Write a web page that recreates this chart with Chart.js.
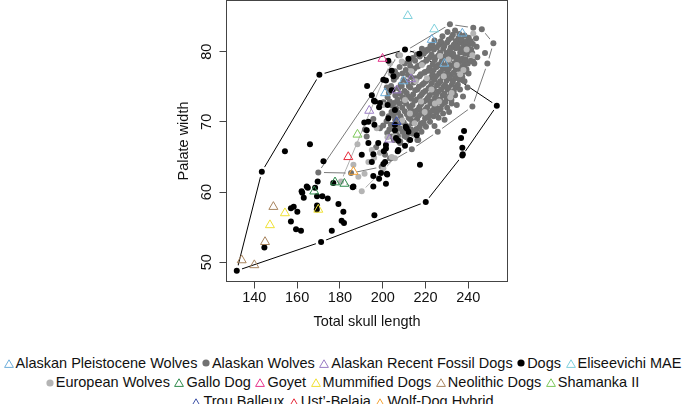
<!DOCTYPE html>
<html>
<head>
<meta charset="utf-8">
<script src="https://cdn.jsdelivr.net/npm/chart.js@4/dist/chart.umd.min.js"></script>
<style>
    body { margin: 0; background: #fff; }
    #wrap { position: relative; width: 685px; height: 404px; overflow: hidden; font-family: 'Liberation Sans', Arial, sans-serif; }
    #chart { position: absolute; left: 0; top: 0; }
    #legend { position: absolute; left: 0; top: 353.5px; width: 685px; font-size: 14.5px; line-height: 19.4px; color: #111; }
    .row { display: flex; justify-content: center; white-space: nowrap; }
    .item { display: inline-flex; align-items: center; margin: 0 2.25px; }
    .item svg { margin-right: 2px; }
</style>
</head>
<body>
<div id="wrap">
    <canvas id="chart" width="685" height="340"></canvas>
    <div id="legend"></div>
</div>
<script>
// Axis ticks
const xTicks = [140, 160, 180, 200, 220, 240];
const yTicks = [50, 60, 70, 80];

// Series: [total skull length, palate width]
const alaskanWolves = [
    [169.9, 62.8], [185.2, 62.7], [199.5, 63.6], [213.6, 66.1], [225.7, 68.6], [241.9, 72.2],
    [248.9, 78.3], [251.7, 81.2], [246.3, 83.2], [242.3, 83.4], [231.4, 83.9], [207.3, 79.5],
    [191.7, 68.9], [195.6, 70.4], [196.9, 66.4], [201.1, 65.3], [203.4, 64.8], [198.7, 69.1], [192.5, 67.9],
    [220.6, 80.2], [227.6, 81.2], [240.0, 81.7], [241.3, 80.3], [243.9, 80.7], [247.8, 79.8], [242.8, 78.3],
    [238.1, 77.9], [235.0, 81.2], [234.1, 80.5], [231.9, 79.5], [216.6, 67.4], [208.1, 67.0], [212.3, 68.4],
    [218.2, 69.8], [221.3, 70.7], [226.0, 71.7], [232.2, 72.6], [233.8, 73.8],
    [234.6, 72.4], [237.5, 73.6], [239.6, 74.9], [231.0, 71.4], [228.9, 70.3],
    [200.2, 69.5], [199.8, 71.2], [200.4, 72.8],
    [202.1, 68.4], [201.8, 70.1], [202.3, 73.5], [201.9, 74.9],
    [204.2, 67.9], [203.8, 69.6], [204.1, 71.4], [204.4, 72.3], [203.9, 75.1],
    [206.1, 68.5], [205.8, 70.3], [206.3, 71.9], [205.9, 73.8], [206.2, 76.4], [205.7, 77.2],
    [208.2, 67.2], [207.9, 69.1], [208.3, 70.8], [207.8, 72.6], [208.1, 74.0], [208.4, 75.3], [207.9, 77.8],
    [210.1, 68.0], [209.8, 69.9], [210.3, 71.5], [209.9, 72.9], [210.2, 74.4], [209.7, 76.0], [210.3, 78.3],
    [212.2, 67.5], [211.8, 69.3], [212.1, 70.6], [212.4, 72.2], [211.9, 73.6], [212.2, 75.1], [211.8, 76.7], [212.3, 78.6],
    [214.1, 68.3], [213.8, 69.8], [214.3, 71.0], [213.9, 72.4], [214.2, 73.9], [214.4, 75.6], [213.8, 77.2], [214.1, 79.1],
    [216.2, 67.4], [215.8, 69.0], [216.1, 70.4], [216.4, 71.7], [215.9, 73.2], [216.2, 74.6], [215.8, 76.1], [216.3, 77.9], [215.9, 79.6],
    [218.1, 68.6], [217.8, 69.7], [218.3, 71.2], [217.9, 72.5], [218.2, 73.9], [218.4, 75.3], [217.8, 76.8], [218.1, 78.2], [218.3, 80.4],
    [220.2, 69.3], [219.8, 70.5], [220.1, 71.8], [220.4, 73.1], [219.9, 74.4], [220.2, 75.8], [219.8, 77.1], [220.3, 78.7], [219.9, 80.0],
    [222.1, 70.0], [221.8, 71.3], [222.3, 72.6], [221.9, 73.8], [222.2, 75.0], [222.4, 76.3], [221.8, 77.7], [222.1, 79.2], [222.3, 80.8],
    [224.2, 69.4], [223.8, 70.8], [224.1, 72.0], [224.4, 73.4], [223.9, 74.7], [224.2, 76.0], [223.8, 77.4], [224.3, 78.8], [223.9, 80.3], [224.2, 81.6],
    [226.1, 70.6], [225.8, 71.9], [226.3, 73.0], [225.9, 74.3], [226.2, 75.5], [226.4, 76.9], [225.8, 78.1], [226.1, 79.5], [226.3, 81.0],
    [228.2, 71.2], [227.8, 72.5], [228.1, 73.8], [228.4, 75.0], [227.9, 76.4], [228.2, 77.6], [227.8, 79.0], [228.3, 80.4], [227.9, 82.2],
    [230.1, 72.0], [229.8, 73.3], [230.3, 74.6], [229.9, 75.9], [230.2, 77.2], [230.4, 78.5], [229.8, 79.8], [230.1, 81.3], [230.3, 82.8],
    [232.1, 73.1], [231.8, 74.0], [232.3, 75.3], [231.9, 76.7], [232.2, 78.0], [232.4, 79.3], [231.8, 80.6], [232.1, 82.0],
    [234.2, 74.9], [233.8, 76.2], [234.1, 77.5], [234.4, 78.9], [234.2, 81.5], [233.8, 83.0],
    [236.1, 74.6], [235.8, 76.0], [236.3, 77.3], [235.9, 78.6], [236.2, 79.9], [236.4, 81.3], [235.8, 82.5],
    [238.2, 75.8], [237.8, 77.1], [238.1, 78.4], [238.4, 79.7], [237.9, 81.0], [238.2, 82.3],
    [240.1, 76.9], [239.8, 78.3], [240.3, 79.6], [239.9, 80.9], [240.2, 82.0],
    [242.2, 78.6], [241.8, 79.8], [242.1, 81.1],
    [244.2, 79.2], [243.6, 81.9],
    [203.1, 68.9], [202.8, 70.8], [203.3, 72.9], [202.9, 74.2],
    [205.2, 67.4], [204.8, 69.1], [205.1, 70.9], [205.3, 72.7], [204.9, 74.6], [205.2, 76.0],
    [207.1, 68.0], [206.8, 69.7], [207.2, 71.3], [206.9, 73.2], [207.3, 74.8], [206.8, 76.7],
    [209.2, 68.6], [208.8, 70.3], [209.1, 72.0], [209.3, 73.5], [208.9, 75.1], [209.2, 76.9],
    [211.1, 67.8], [210.8, 69.5], [211.3, 71.1], [210.9, 72.6], [211.2, 74.1], [211.4, 75.7], [210.8, 77.4],
    [213.2, 68.9], [212.8, 70.4], [213.1, 71.8], [213.3, 73.3], [212.9, 74.9], [213.2, 76.4], [212.8, 78.0],
    [215.1, 68.7], [214.8, 70.1], [215.3, 71.5], [214.9, 73.0], [215.2, 74.5], [215.4, 76.2], [214.8, 77.6], [215.1, 78.7],
    [217.2, 69.3], [216.8, 70.9], [217.1, 72.1], [217.4, 73.6], [216.9, 75.0], [217.2, 76.5], [216.8, 78.0], [217.3, 79.3],
    [219.1, 69.9], [218.8, 71.5], [219.3, 72.9], [218.9, 74.2], [219.2, 75.5], [219.4, 77.0], [218.8, 78.4], [219.1, 79.7],
    [221.2, 70.8], [220.8, 72.1], [221.1, 73.4], [221.4, 74.8], [220.9, 76.1], [221.2, 77.3], [220.8, 78.9], [221.3, 80.3],
    [223.1, 71.6], [222.8, 72.9], [223.3, 74.2], [222.9, 75.5], [223.2, 76.8], [223.4, 78.2], [222.8, 79.6], [223.1, 81.0],
    [225.2, 71.3], [224.8, 72.6], [225.1, 73.9], [225.4, 75.2], [224.9, 76.5], [225.2, 77.8], [224.8, 79.2], [225.3, 80.6],
    [227.1, 71.9], [226.8, 73.2], [227.3, 74.6], [226.9, 75.8], [227.2, 77.1], [227.4, 78.5], [226.8, 79.9], [227.1, 81.5],
    [229.2, 72.8], [228.8, 74.0], [229.1, 75.3], [229.4, 76.7], [228.9, 78.0], [229.2, 79.3], [228.8, 80.8],
    [231.1, 73.6], [230.8, 74.9], [231.3, 76.2], [230.9, 77.6], [231.2, 78.9], [231.4, 80.2], [230.8, 81.7],
    [233.2, 74.4], [232.8, 75.7], [233.1, 77.0], [233.4, 78.3], [232.9, 79.7], [233.2, 81.0], [232.8, 82.4],
    [235.1, 75.3], [234.8, 76.6], [235.3, 77.9], [234.9, 79.2], [235.2, 80.6], [235.4, 81.9],
    [237.2, 76.4], [236.8, 77.8], [237.1, 79.0], [237.4, 80.4], [236.9, 81.7],
    [239.1, 77.5], [238.8, 78.9], [239.3, 80.2], [238.9, 81.4],
    [241.2, 78.7], [240.8, 80.0], [241.1, 81.5]
];

const europeanWolves = [
    [190.2, 60.1], [180.5, 61.5], [193.3, 64.3], [198.7, 65.6], [188.6, 62.2], [204.2, 65.0], [186.3, 63.9],
    [188.2, 66.8], [203.4, 78.3], [208.1, 79.5], [208.9, 78.6], [203.7, 76.9], [200.3, 72.4], [197.2, 69.1],
    [194.9, 66.0], [200.3, 63.4], [205.7, 64.8], [230.7, 78.9], [239.2, 80.3], [241.9, 79.5], [242.3, 82.6],
    [220.6, 76.2], [237.7, 77.4], [232.2, 74.1], [224.4, 72.6], [210.4, 73.1], [205.7, 67.9], [231.6, 73.5],
    [215.5, 75.8], [218.3, 78.1], [226.8, 79.4], [212.7, 71.2], [217.9, 72.9], [222.8, 74.6], [228.5, 76.5],
    [234.6, 78.1], [213.4, 77.2], [209.1, 70.2], [214.9, 69.8], [219.6, 71.4], [226.3, 72.9], [236.2, 76.8],
    [191.5, 62.6], [196.0, 64.9], [202.2, 67.8]
];

const dogs = [
    [131.8, 48.8], [143.5, 62.9], [170.4, 76.7], [210.4, 80.3], [217.1, 79.7], [253.3, 72.3], [237.2, 65.2],
    [220.1, 58.6], [171.2, 52.9],
    [154.3, 65.8], [144.7, 52.1], [172.3, 64.4], [169.6, 61.5], [165.0, 60.6], [162.4, 59.9], [163.1, 59.2],
    [169.3, 59.4], [171.8, 59.4], [174.3, 59.1], [157.1, 57.7], [158.4, 57.9], [160.1, 57.2], [169.3, 58.1],
    [169.2, 57.5], [157.1, 55.8], [159.5, 54.7], [161.8, 54.5], [176.2, 54.5], [179.3, 58.3], [181.6, 57.2],
    [180.8, 55.9], [181.9, 55.6], [196.1, 56.7], [176.9, 61.3], [186.0, 60.7], [190.2, 65.3], [195.6, 65.4],
    [201.1, 64.3], [201.9, 62.6], [195.6, 62.3], [198.3, 61.9], [207.0, 65.8], [200.3, 64.0], [217.4, 63.9],
    [166.0, 66.8], [164.5, 60.8], [168.4, 60.6], [162.1, 60.1],
    [192.7, 75.1], [202.6, 78.7], [200.3, 76.0], [205.0, 76.5], [204.2, 74.5], [195.9, 73.0], [198.3, 72.1],
    [191.4, 69.9], [192.5, 68.8], [196.1, 69.6], [193.3, 67.0], [201.5, 66.7], [206.2, 67.7], [200.5, 65.8],
    [212.0, 79.0], [202.3, 72.4], [205.7, 71.7], [202.6, 70.5], [210.7, 69.3], [215.9, 68.1], [205.7, 69.6],
    [212.0, 68.6], [238.0, 68.7], [236.6, 67.7], [237.2, 66.3], [237.4, 65.4],
    [204.2, 77.3], [201.5, 75.9], [194.9, 73.8], [196.4, 72.9], [193.3, 70.0], [198.7, 72.7], [205.7, 68.8],
    [211.2, 69.1], [194.9, 64.3], [197.9, 67.0], [201.5, 66.2], [207.3, 66.0], [199.2, 62.7], [202.1, 62.5],
    [201.5, 61.2], [186.3, 60.8], [195.6, 60.8], [210.4, 66.6], [212.8, 67.4], [207.3, 67.3]
];

const alaskanPleistoceneWolves = [[201.1, 74.1], [209.7, 75.8], [228.8, 78.3], [237.2, 82.6], [222.9, 81.7]];
const alaskanRecentFossilDogs = [[206.5, 74.5], [193.7, 71.6], [203.1, 67.5], [213.2, 76.1]];
const eliseevichiMAE = [[211.7, 85.1], [224.1, 83.2]];
const galloDog = [[168.0, 60.1], [177.7, 61.4], [182.1, 61.2]];
const goyet = [[199.9, 79.0]];
const mummifiedDogs = [[154.3, 57.0], [147.3, 55.3], [169.9, 57.5]];
const neolithicDogs = [[148.9, 57.9], [145.0, 52.9], [134.1, 50.3], [140.0, 49.6]];
const shamankaII = [[188.2, 68.2]];
const trouBalleux = [[206.5, 70.0]];
const ustBelaia = [[183.9, 65.0]];
const wolfDogHybrid = [[186.3, 62.9]];

const groups = [
    { name: 'Alaskan Pleistocene Wolves', color: '#6eaedb', shape: 'triangle', data: alaskanPleistoceneWolves },
    { name: 'Alaskan Wolves', color: '#717171', shape: 'circle', data: alaskanWolves },
    { name: 'Alaskan Recent Fossil Dogs', color: '#9a7cc4', shape: 'triangle', data: alaskanRecentFossilDogs },
    { name: 'Dogs', color: '#000000', shape: 'circle', data: dogs },
    { name: 'Eliseevichi MAE', color: '#7fd0dc', shape: 'triangle', data: eliseevichiMAE },
    { name: 'European Wolves', color: '#b4b4b4', shape: 'circle', data: europeanWolves },
    { name: 'Gallo Dog', color: '#2f8a4c', shape: 'triangle', data: galloDog },
    { name: 'Goyet', color: '#e6338c', shape: 'triangle', data: goyet },
    { name: 'Mummified Dogs', color: '#efe033', shape: 'triangle', data: mummifiedDogs },
    { name: 'Neolithic Dogs', color: '#a8845e', shape: 'triangle', data: neolithicDogs },
    { name: 'Shamanka II', color: '#7cc858', shape: 'triangle', data: shamankaII },
    { name: 'Trou Balleux', color: '#3c50a6', shape: 'triangle', data: trouBalleux },
    { name: 'Ust\u2019-Belaia', color: '#e62a3a', shape: 'triangle', data: ustBelaia },
    { name: 'Wolf-Dog Hybrid', color: '#f4a233', shape: 'triangle', data: wolfDogHybrid }
];

const legendRows = [
    ['Alaskan Pleistocene Wolves', 'Alaskan Wolves', 'Alaskan Recent Fossil Dogs', 'Dogs', 'Eliseevichi MAE'],
    ['European Wolves', 'Gallo Dog', 'Goyet', 'Mummified Dogs', 'Neolithic Dogs', 'Shamanka II'],
    ['Trou Balleux', 'Ust\u2019-Belaia', 'Wolf-Dog Hybrid']
];

// convex hull (monotone chain), closed
function convexHull(pts) {
    const p = pts.map(([x, y]) => ({ x, y })).sort((a, b) => a.x - b.x || a.y - b.y);
    const cross = (o, a, b) => (a.x - o.x) * (b.y - o.y) - (a.y - o.y) * (b.x - o.x);
    const lower = [];
    for (const q of p) {
        while (lower.length >= 2 && cross(lower[lower.length - 2], lower[lower.length - 1], q) <= 0) lower.pop();
        lower.push(q);
    }
    const upper = [];
    for (const q of p.slice().reverse()) {
        while (upper.length >= 2 && cross(upper[upper.length - 2], upper[upper.length - 1], q) <= 0) upper.pop();
        upper.push(q);
    }
    lower.pop();
    upper.pop();
    const h = lower.concat(upper);
    h.push(h[0]);
    return h;
}

function hullDataset(pts, color) {
    return {
        data: convexHull(pts),
        showLine: true,
        borderColor: color,
        borderWidth: 1,
        pointRadius: 5.5,
        pointBackgroundColor: '#ffffff',
        pointBorderWidth: 0,
        order: 100
    };
}

const drawOrder = { 'Alaskan Wolves': 50, 'European Wolves': 40, 'Dogs': 30 };

const pointSets = groups.map(g => ({
    label: g.name,
    data: g.data.map(([x, y]) => ({ x, y })),
    pointStyle: g.shape,
    pointRadius: g.shape === 'circle' ? 3 : 5.2,
    backgroundColor: g.shape === 'circle' ? g.color : 'rgba(0,0,0,0)',
    borderColor: g.color,
    borderWidth: g.shape === 'circle' ? 0 : 1,
    order: drawOrder[g.name] || 10
}));

const datasets = [
    hullDataset(dogs, '#000000'),
    hullDataset(alaskanWolves, '#7a7a7a'),
    hullDataset(europeanWolves, '#b0b0b0'),
    ...pointSets
];

// box around the plot area
const boxPlugin = {
    id: 'box',
    afterDraw(chart) {
        const { ctx, chartArea: a } = chart;
        ctx.save();
        ctx.strokeStyle = '#444';
        ctx.lineWidth = 1;
        ctx.strokeRect(a.left, a.top, a.right - a.left, a.bottom - a.top);
        ctx.restore();
    }
};

Chart.defaults.font.family = "'Liberation Sans', Arial, sans-serif";
Chart.defaults.font.size = 14.5;
Chart.defaults.color = '#111';

new Chart(document.getElementById('chart'), {
    type: 'scatter',
    data: { datasets: datasets },
    options: {
        responsive: false,
        animation: false,
        events: [],
        layout: { autoPadding: false, padding: { left: 170, right: 177.5, top: 0.5, bottom: 0 } },
        plugins: {
            legend: { display: false },
            tooltip: { enabled: false }
        },
        scales: {
            x: {
                type: 'linear',
                min: 127.0,
                max: 258.3,
                afterBuildTicks: axis => { axis.ticks = xTicks.map(v => ({ value: v })); },
                afterFit: axis => { axis.height = 58.5; axis.paddingLeft = 0; axis.paddingRight = 0; },
                border: { display: false },
                grid: { drawOnChartArea: false, drawTicks: true, tickLength: 7, color: '#444' },
                ticks: { padding: 1, color: '#111', maxRotation: 0 },
                title: { display: true, text: 'Total skull length', color: '#111', padding: { top: 0, bottom: 9.8 } }
            },
            y: {
                type: 'linear',
                min: 47.26,
                max: 87.29,
                afterBuildTicks: axis => { axis.ticks = yTicks.map(v => ({ value: v })); },
                afterFit: axis => { axis.width = 56.5; axis.paddingTop = 0; axis.paddingBottom = 0; },
                border: { display: false },
                grid: { drawOnChartArea: false, drawTicks: true, tickLength: 7, color: '#444' },
                ticks: { padding: 4, color: '#111', minRotation: 90, maxRotation: 90, crossAlign: 'center' },
                title: { display: true, text: 'Palate width', color: '#111', padding: { top: 5.6, bottom: 0 } }
            }
        }
    },
    plugins: [boxPlugin]
});

// legend (HTML)
function marker(g) {
    if (g.shape === 'circle') {
        return '<svg width="8" height="8"><circle cx="4" cy="4" r="3.6" fill="' + g.color + '"/></svg>';
    }
    return '<svg width="10" height="9"><polygon points="5,0.8 9.4,8.4 0.6,8.4" fill="none" stroke="' + g.color + '" stroke-width="1"/></svg>';
}

const legendEl = document.getElementById('legend');
legendRows.forEach(row => {
    const div = document.createElement('div');
    div.className = 'row';
    row.forEach(name => {
        const g = groups.find(gr => gr.name === name);
        const span = document.createElement('span');
        span.className = 'item';
        span.innerHTML = marker(g) + '<span>' + name + '</span>';
        div.appendChild(span);
    });
    legendEl.appendChild(div);
});
</script>
</body>
</html>
